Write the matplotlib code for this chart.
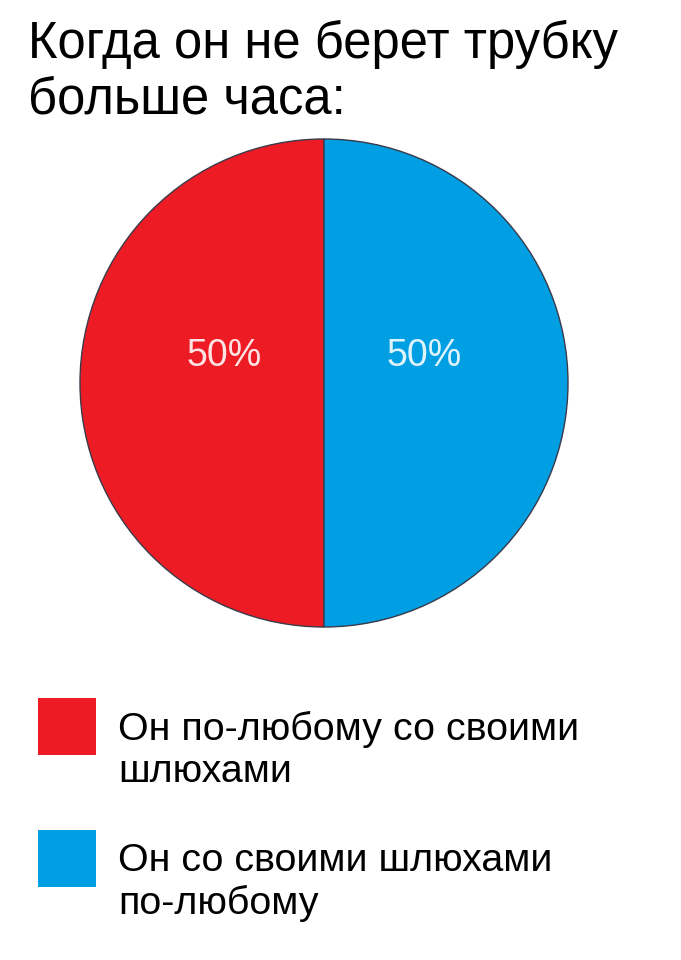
import matplotlib.pyplot as plt
from matplotlib.patches import Rectangle
import numpy as np

title_lines = ['Когда он не берет трубку', 'больше часа:']
labels = ['Он по-любому со своими\nшлюхами', 'Он со своими шлюхами\nпо-любому']
values = [50, 50]
colors = ['#ED1C24', '#009FE3']

plt.rcParams['font.family'] = ['Liberation Sans', 'DejaVu Sans']

W, H = 681, 960
fig = plt.figure(figsize=(W / 100, H / 100), dpi=100)
fig.patch.set_facecolor('white')

def fx(px):
    return px / W

def fy(py):
    return 1 - py / H

# заголовок
fig.text(fx(28), fy(58), title_lines[0], fontsize=36.5, va='baseline', ha='left')
fig.text(fx(28), fy(113), title_lines[1], fontsize=36.5, va='baseline', ha='left')

# круговая диаграмма
cx, cy, r = 324, 383, 244
ax = fig.add_axes([fx(cx - r), fy(cy + r), (2 * r) / W, (2 * r) / H])
wedges, _ = ax.pie(values, colors=colors, startangle=90, counterclock=True,
                   wedgeprops=dict(edgecolor='#3a3a4a', linewidth=1.0))
ax.set_xlim(-1, 1)
ax.set_ylim(-1, 1)
ax.set_aspect('equal')
ax.axis('off')

for w, v in zip(wedges, values):
    mid = np.deg2rad((w.theta1 + w.theta2) / 2)
    x = 0.41 * np.cos(mid)
    y = 0.41 * np.sin(mid) + 0.11
    ax.text(x, y, f'{v}%', color='white', alpha=0.88, fontsize=27,
            ha='center', va='center')

# легенда
box_top = [698, 830]
for top, lab, c in zip(box_top, labels, colors):
    fig.add_artist(Rectangle((fx(38), fy(top + 57)), 58 / W, 57 / H,
                             transform=fig.transFigure, facecolor=c,
                             edgecolor='none'))
    # baseline задаётся по последней строке
    fig.text(fx(118), fy(top + 84), lab, fontsize=28.4, ha='left',
             va='baseline', linespacing=1.2)

fig.savefig('out.png', dpi=100, facecolor='white')
